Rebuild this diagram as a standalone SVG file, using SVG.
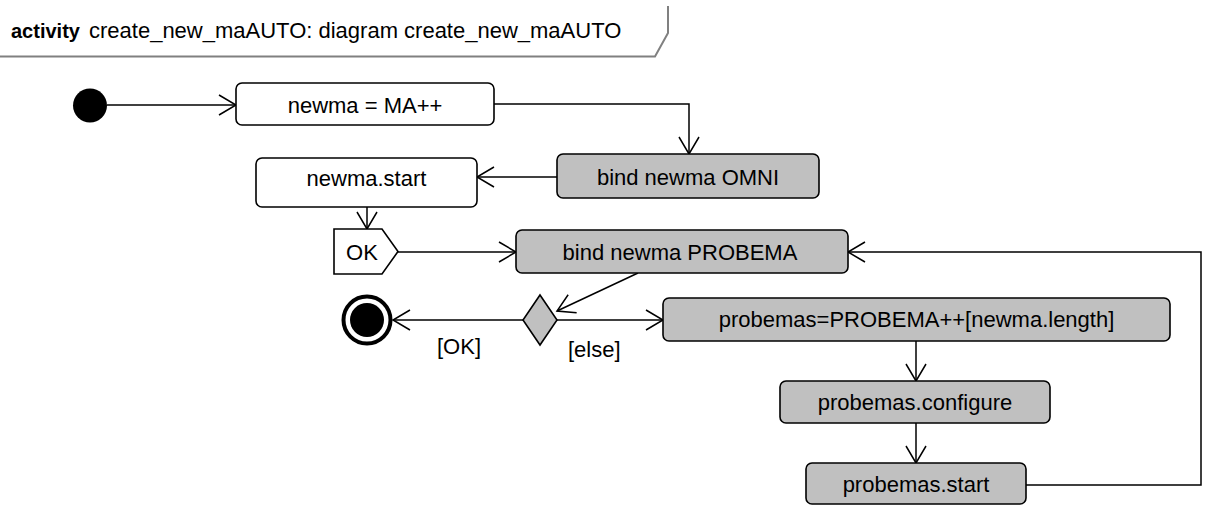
<svg xmlns="http://www.w3.org/2000/svg" width="1205" height="506" viewBox="0 0 1205 506">
<defs>
<style>
text{font-family:"Liberation Sans",Arial,sans-serif;font-size:22px;fill:#000}
.lbl{text-anchor:middle}
.act{stroke:#000;stroke-width:1.6}
.w{fill:#fff}
.g{fill:#c0c0c0}
.c{fill:none;stroke:#000;stroke-width:1.5}
</style>
<marker id="arr" markerUnits="userSpaceOnUse" markerWidth="22" markerHeight="24" refX="18" refY="11" orient="auto">
<path d="M1,1 L18,11 L1,21" fill="none" stroke="#000" stroke-width="1.5"/>
</marker>
</defs>
<rect width="1205" height="506" fill="#fff"/>
<g id="frame">
<path d="M0,56.5 H655 L668,33 V6" fill="none" stroke="#808080" stroke-width="2"/>
<text x="11" y="37.5" style="font-weight:bold;font-size:20px">activity</text>
<text x="89" y="37.5">create_new_maAUTO: diagram create_new_maAUTO</text>
</g>
<g id="connectors">
<path class="c" d="M107,105 H236" marker-end="url(#arr)"/>
<path class="c" d="M494,104 H689 V154" marker-end="url(#arr)"/>
<path class="c" d="M557,177 H477" marker-end="url(#arr)"/>
<path class="c" d="M367,207 V229" marker-end="url(#arr)"/>
<path class="c" d="M398,252 H516" marker-end="url(#arr)"/>
<path class="c" d="M638,273 L557,311" marker-end="url(#arr)"/>
<path class="c" d="M523,320 H393" marker-end="url(#arr)"/>
<path class="c" d="M557,320 H663" marker-end="url(#arr)"/>
<path class="c" d="M916,341 V381" marker-end="url(#arr)"/>
<path class="c" d="M916,423 V463" marker-end="url(#arr)"/>
<path class="c" d="M1026,485 H1201 V252 H848" marker-end="url(#arr)"/>
<text x="437" y="354">[OK]</text>
<text x="568" y="357">[else]</text>
</g>
<g id="initial"><circle cx="90" cy="105.5" r="17" fill="#000"/></g>
<g id="n1"><rect class="act w" x="236" y="83" width="258" height="42" rx="6"/><text class="lbl" x="365" y="113">newma = MA++</text></g>
<g id="n2"><rect class="act g" x="557" y="154" width="262" height="44" rx="6"/><text class="lbl" x="688" y="185">bind newma OMNI</text></g>
<g id="n3"><rect class="act w" x="256" y="158" width="221" height="49" rx="6"/><text class="lbl" x="366.5" y="186">newma.start</text></g>
<g id="n4"><polygon class="act w" points="334,229 382,229 398,251.5 382,274 334,274"/><text class="lbl" x="362" y="260">OK</text></g>
<g id="n5"><rect class="act g" x="516" y="230" width="332" height="43" rx="6"/><text class="lbl" x="680" y="260">bind newma PROBEMA</text></g>
<g id="decision"><polygon class="act g" points="540,295 557,320 540,345 523,320"/></g>
<g id="final"><circle cx="367" cy="320" r="23.5" fill="#fff" stroke="#000" stroke-width="4"/><circle cx="367" cy="320" r="17" fill="#000"/></g>
<g id="n6"><rect class="act g" x="663" y="298" width="507" height="43" rx="6"/><text class="lbl" x="916.5" y="327">probemas=PROBEMA++[newma.length]</text></g>
<g id="n7"><rect class="act g" x="780" y="381" width="270" height="42" rx="6"/><text class="lbl" x="915" y="410">probemas.configure</text></g>
<g id="n8"><rect class="act g" x="806" y="463" width="220" height="41" rx="6"/><text class="lbl" x="916" y="492">probemas.start</text></g>
</svg>
